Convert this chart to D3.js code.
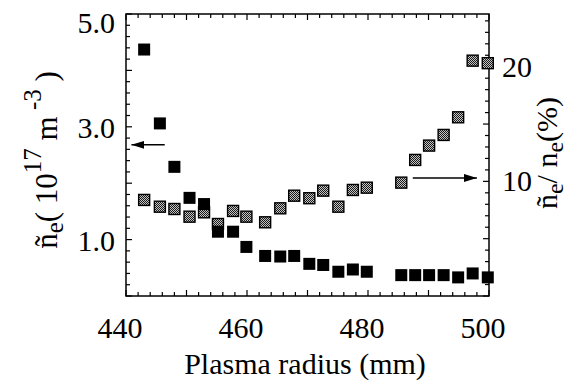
<!DOCTYPE html>
<html>
<head>
<meta charset="utf-8">
<script src="https://cdn.jsdelivr.net/npm/d3@7"></script>
<style>
  body { margin: 0; background: #fff; }
  .serif { font-family: "Liberation Serif"; }
</style>
</head>
<body>
<div id="chart"></div>
<script>
// plasma radius (mm), shared by both series
var radius = [443.0, 445.6, 448.0, 450.5, 452.9, 455.2, 457.7, 459.9, 463.0, 465.5, 467.8, 470.3,
              472.6, 475.1, 477.5, 479.8, 485.5, 487.8, 490.1, 492.5, 494.9, 497.3, 499.8]
// fluctuation amplitude (10^17 m^-3), left axis
var neFluct = [4.37, 3.06, 2.29, 1.74, 1.63, 1.14, 1.14, 0.87, 0.71, 0.70, 0.71, 0.57,
               0.55, 0.43, 0.47, 0.43, 0.37, 0.37, 0.37, 0.37, 0.33, 0.40, 0.33]
// relative fluctuation (%), right axis
var neRel = [8.38, 7.79, 7.59, 6.92, 7.30, 6.28, 7.42, 6.92, 6.43, 7.65, 8.75, 8.53,
             9.19, 7.79, 9.25, 9.45, 9.89, 11.87, 13.12, 14.05, 15.59, 20.53, 20.31]

var xTickLabels = [440, 460, 480, 500]
var leftTickLabels = [1.0, 3.0, 5.0]
var rightTickLabels = [10, 20]

var width = 577,
    height = 384,
    margin = {top: 14, right: 88, bottom: 88, left: 126}

var svg = d3.select("#chart").append("svg")
  .attr("width", width)
  .attr("height", height)

var x = d3.scaleLinear().domain([440, 500]).range([margin.left, width - margin.right])
var yL = d3.scaleLinear().domain([0, 5]).range([height - margin.bottom, margin.top])
var yR = d3.scaleLinear().domain([0, 24.6]).range([height - margin.bottom, margin.top])

var x0 = x.range()[0], x1 = x.range()[1],
    y0 = yL.range()[0], y1 = yL.range()[1]

// checkered fill for the relative-fluctuation squares
var defs = svg.append("defs")
var pat = defs.append("pattern")
  .attr("id", "checker")
  .attr("width", 2).attr("height", 2)
  .attr("patternUnits", "userSpaceOnUse")
pat.append("rect").attr("width", 2).attr("height", 2).attr("fill", "#c4c4c4")
pat.append("rect").attr("width", 1).attr("height", 1).attr("fill", "#1a1a1a")
pat.append("rect").attr("x", 1).attr("y", 1).attr("width", 1).attr("height", 1).attr("fill", "#1a1a1a")

var marker = defs.append("marker")
  .attr("id", "head")
  .attr("viewBox", "0 0 13 8")
  .attr("refX", 13).attr("refY", 4)
  .attr("markerWidth", 13).attr("markerHeight", 8)
  .attr("markerUnits", "userSpaceOnUse")
  .attr("orient", "auto")
marker.append("path").attr("d", "M0,0L13,4L0,8Z").attr("fill", "#000")

// --- ticks (all inward) ---------------------------------------
var ticks = svg.append("g").attr("stroke", "#000").attr("stroke-width", 1.2)

d3.range(440, 501, 2).forEach(function(v) {
  var len = v % 10 === 0 ? 6 : 4
  ticks.append("line").attr("x1", x(v)).attr("x2", x(v)).attr("y1", y0).attr("y2", y0 - len)
  ticks.append("line").attr("x1", x(v)).attr("x2", x(v)).attr("y1", y1).attr("y2", y1 + len)
})

d3.range(0, 5.01, 0.2).forEach(function(v) {
  var len = Math.abs(v - Math.round(v)) < 1e-6 ? 6 : 4
  ticks.append("line").attr("x1", x0).attr("x2", x0 + len).attr("y1", yL(v)).attr("y2", yL(v))
})

d3.range(0, 24.6, 1).forEach(function(v) {
  var len = v % 5 === 0 ? 6 : 4
  ticks.append("line").attr("x1", x1).attr("x2", x1 - len).attr("y1", yR(v)).attr("y2", yR(v))
})

// frame
svg.append("rect")
  .attr("x", x0).attr("y", y1)
  .attr("width", x1 - x0).attr("height", y0 - y1)
  .attr("fill", "none").attr("stroke", "#000").attr("stroke-width", 1.5)

// --- tick labels ---------------------------------------
svg.append("g").selectAll("text")
  .data(xTickLabels)
  .enter().append("text")
    .attr("class", "serif")
    .attr("x", d => x(d) - 6)
    .attr("y", 338)
    .attr("text-anchor", "middle")
    .attr("font-size", 30)
    .text(d => d)

svg.append("g").selectAll("text")
  .data(leftTickLabels)
  .enter().append("text")
    .attr("class", "serif")
    .attr("x", 115)
    .attr("y", d => Math.max(yL(d), y1 + 8) + 11)
    .attr("text-anchor", "end")
    .attr("font-size", 30)
    .text(d => d3.format(".1f")(d))

svg.append("g").selectAll("text")
  .data(rightTickLabels)
  .enter().append("text")
    .attr("class", "serif")
    .attr("x", 502)
    .attr("y", d => yR(d) + 10)
    .attr("text-anchor", "start")
    .attr("font-size", 30)
    .text(d => d)

// --- axis titles ---------------------------------------
svg.append("text")
  .attr("class", "serif")
  .attr("x", 305)
  .attr("y", 374)
  .attr("text-anchor", "middle")
  .attr("font-size", 30)
  .text("Plasma radius (mm)")

var leftTitle = svg.append("text")
  .attr("class", "serif")
  .attr("transform", "translate(57,160) rotate(-90)")
  .attr("text-anchor", "middle")
  .attr("font-size", 31)
leftTitle.append("tspan").text("ñ")
leftTitle.append("tspan").attr("dy", 6).attr("font-size", 25).text("e")
leftTitle.append("tspan").attr("dy", -6).text("( 10")
leftTitle.append("tspan").attr("dy", -16).attr("font-size", 25).text("17")
leftTitle.append("tspan").attr("dy", 16).text(" m")
leftTitle.append("tspan").attr("dy", -16).attr("font-size", 25).text(" -3")
leftTitle.append("tspan").attr("dy", 16).text(" )")

var rightTitle = svg.append("text")
  .attr("class", "serif")
  .attr("transform", "translate(557,153) rotate(-90)")
  .attr("text-anchor", "middle")
  .attr("font-size", 30)
rightTitle.append("tspan").text("ñ")
rightTitle.append("tspan").attr("dy", 6).attr("font-size", 24).text("e")
rightTitle.append("tspan").attr("dy", -6).text("/ n")
rightTitle.append("tspan").attr("dy", 6).attr("font-size", 24).text("e")
rightTitle.append("tspan").attr("dy", -6).text("(%)")

// --- arrows pointing to each axis ---------------------------------------
svg.append("line")
  .attr("x1", x(446.4)).attr("x2", x(440.9))
  .attr("y1", yL(2.68)).attr("y2", yL(2.68))
  .attr("stroke", "#000").attr("stroke-width", 1.5)
  .attr("marker-end", "url(#head)")

svg.append("line")
  .attr("x1", x(487.4)).attr("x2", x(498.0))
  .attr("y1", yR(10.3)).attr("y2", yR(10.3))
  .attr("stroke", "#000").attr("stroke-width", 1.5)
  .attr("marker-end", "url(#head)")

// --- data squares ---------------------------------------
var s = 11

svg.append("g").selectAll("rect")
  .data(radius.map((r, i) => [r, neRel[i]]))
  .enter().append("rect")
    .attr("x", d => x(d[0]) - s / 2)
    .attr("y", d => yR(d[1]) - s / 2)
    .attr("width", s).attr("height", s)
    .attr("fill", "url(#checker)")
    .attr("stroke", "#000").attr("stroke-width", 1.4)

svg.append("g").selectAll("rect")
  .data(radius.map((r, i) => [r, neFluct[i]]))
  .enter().append("rect")
    .attr("x", d => x(d[0]) - (s + 1) / 2)
    .attr("y", d => yL(d[1]) - (s + 1) / 2)
    .attr("width", s + 1).attr("height", s + 1)
    .attr("fill", "#000")
</script>
</body>
</html>
